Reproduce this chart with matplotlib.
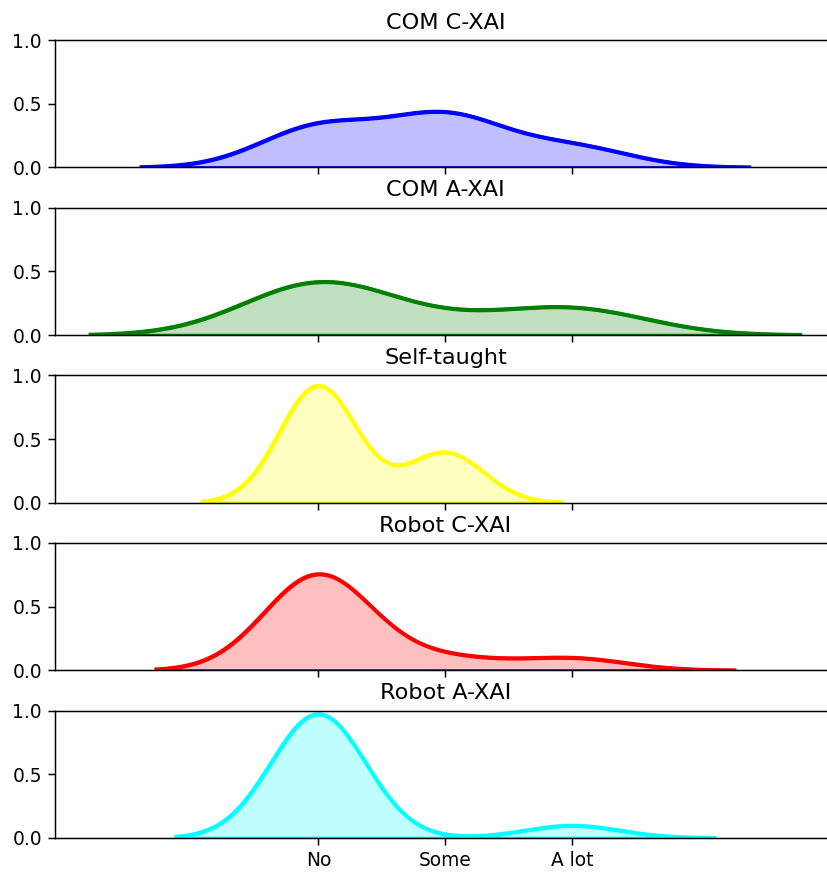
import matplotlib
matplotlib.use("Agg")
import matplotlib.pyplot as plt
import numpy as np
import seaborn as sns

# answer levels: 0 = No, 1 = Some, 2 = A lot
levels = [0, 1, 2]
tick_labels = ["No", "Some", "A lot"]

# number of participants per answer (No, Some, A lot)
com_cxai = [4, 5, 2]
com_axai = [6, 1, 3]
self_taught = [7, 3, 0]
robot_cxai = [8, 1, 1]
robot_axai = [10, 0, 1]

titles = ["COM C-XAI", "COM A-XAI", "Self-taught", "Robot C-XAI", "Robot A-XAI"]
colors = ["blue", "green", "yellow", "red", "cyan"]

groups = [com_cxai, com_axai, self_taught, robot_cxai, robot_axai]

DPI = 134
fig, axes = plt.subplots(5, 1, figsize=(827 / DPI, 872 / DPI), dpi=DPI, sharex=True)
fig.subplots_adjust(left=0.0665, right=1.0106, top=0.9541, bottom=0.039, hspace=0.315)

for ax, counts, title, color in zip(axes, groups, titles, colors):
    samples = np.repeat(levels, counts)
    sns.kdeplot(x=samples, ax=ax, color=color, fill=True, alpha=0.25, linewidth=2)
    # redraw the outline in full colour on top of the fill
    sns.kdeplot(x=samples, ax=ax, color=color, linewidth=2)
    ax.set_title(title)
    ax.set_ylabel("")
    ax.set_ylim(0, 1.0)
    ax.set_yticks([0.0, 0.5, 1.0])

axes[-1].set_xticks(levels)
axes[-1].set_xticklabels(tick_labels)

plt.savefig("out.png", dpi=DPI)
